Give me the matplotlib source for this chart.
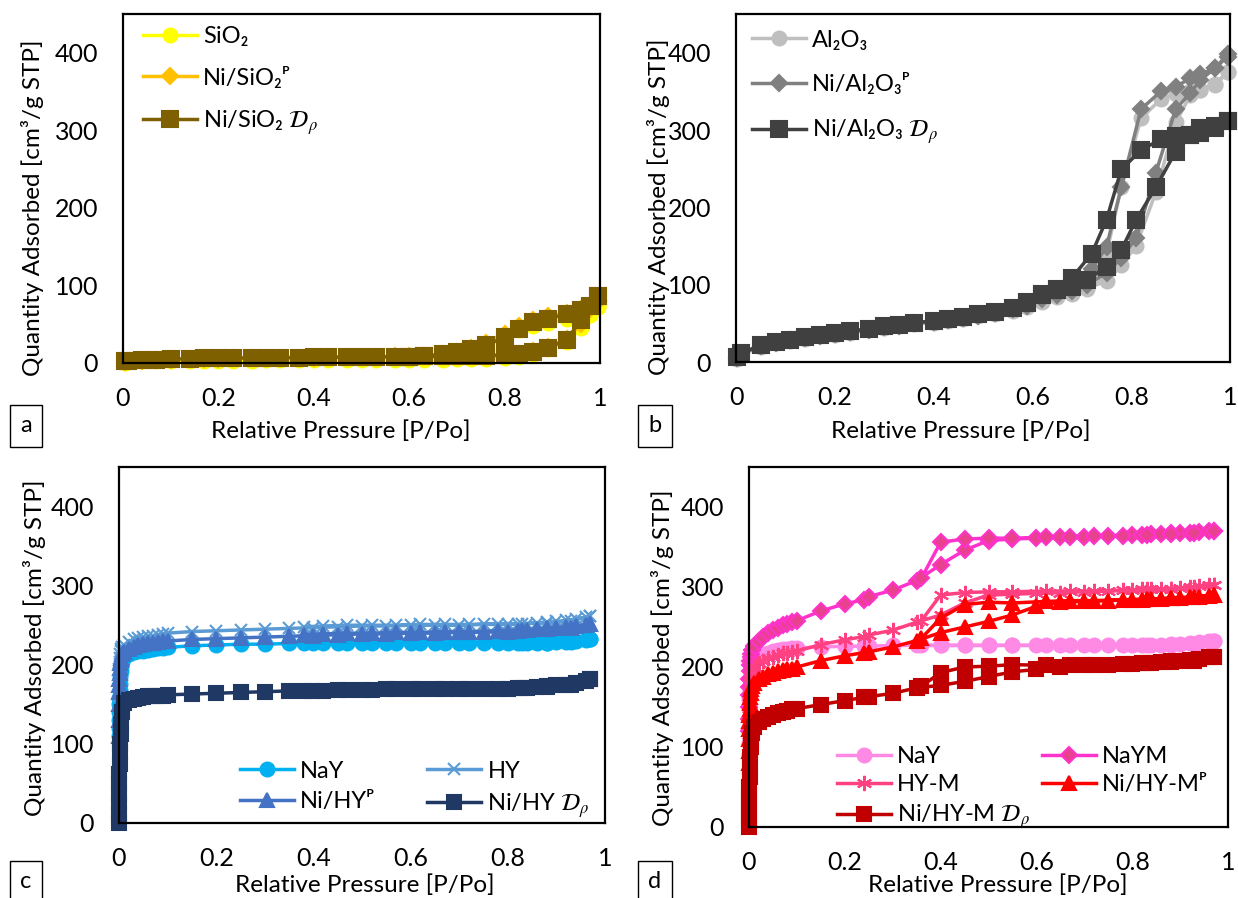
import matplotlib
matplotlib.use("Agg")
import matplotlib.pyplot as plt

plt.rcParams['font.family'] = ['Lato', 'DejaVu Sans']
plt.rcParams['font.size'] = 17

W, H = 1238, 898

# ---- panel a : silica ----
a_x_ads = [0.005, 0.01, 0.04, 0.07, 0.10, 0.14, 0.17, 0.20, 0.23, 0.27, 0.30, 0.33, 0.37, 0.40, 0.43, 0.47,
           0.50, 0.53, 0.57, 0.60, 0.63, 0.67, 0.70, 0.73, 0.76, 0.80, 0.83, 0.86, 0.89, 0.93, 0.96, 0.98, 0.995]
a_x_des = [0.995, 0.96, 0.93, 0.89, 0.86, 0.83, 0.80, 0.76, 0.73, 0.70, 0.67, 0.63, 0.60]
sio2_ads = [0, 1, 2, 2.5, 2.5, 3, 3, 3, 3, 3, 3.5, 3.5, 3.5, 3.5, 3.5, 4, 4, 4, 4, 4, 4.5, 4.5, 5, 5, 5.5,
            6, 8, 12, 18, 27, 45, 62, 72]
sio2_des = [72, 60, 57, 52, 48, 42, 35, 20, 14, 10, 8, 6, 5]
nisio2_p_ads = [1, 2, 3, 4, 4.5, 5, 5.5, 5.5, 6, 6, 6.5, 6.5, 7, 7, 7.5, 7.5, 8, 8, 8.5, 8.5, 9, 9, 9.5, 10, 10,
                10.5, 12, 15, 21, 31, 50, 70, 80]
nisio2_p_des = [80, 70, 65, 60, 55, 48, 38, 26, 19, 14, 11, 9, 8]
nisio2_d_ads = [2, 3, 4, 4.5, 5, 5.5, 6, 6, 6.5, 6.5, 7, 7, 7, 7.5, 7.5, 7.5, 8, 8, 8, 8, 8.5, 8.5, 9, 9, 9.5,
                10, 11, 14, 19, 30, 55, 74, 87]
nisio2_d_des = [87, 68, 63, 57, 53, 44, 33, 23, 18, 14, 11, 9, 8]

# ---- panel b : alumina ----
b_x_ads = [0.002, 0.01, 0.05, 0.08, 0.11, 0.14, 0.17, 0.20, 0.23, 0.27, 0.30, 0.33, 0.36, 0.40, 0.43, 0.46,
           0.49, 0.525, 0.56, 0.59, 0.62, 0.65, 0.68, 0.71, 0.75, 0.78, 0.81, 0.85, 0.89, 0.92, 0.94, 0.97, 0.995]
b_x_des = [0.995, 0.97, 0.94, 0.92, 0.89, 0.86, 0.82, 0.78, 0.75, 0.72, 0.68, 0.65, 0.62, 0.59]
al2o3_ads = [4, 9, 20, 24, 27, 30, 33, 35, 38, 41, 44, 46, 49, 51, 53, 56, 59, 62, 66, 71, 78, 84, 88, 95,
             105, 125, 150, 220, 310, 345, 352, 360, 375]
al2o3_des = [375, 358, 352, 350, 347, 340, 315, 226, 140, 110, 95, 88, 82, 75]
nial2o3_p_ads = [5, 10, 21, 25, 28, 31, 34, 36, 39, 42, 45, 47, 50, 52, 54, 57, 60, 63, 68, 73, 81, 87, 92,
                 100, 115, 135, 160, 245, 327, 348, 365, 380, 395]
nial2o3_p_des = [398, 380, 372, 367, 356, 350, 327, 226, 149, 120, 100, 90, 84, 76]
nial2o3_d_ads = [6, 11, 22, 26, 29, 32, 35, 37, 40, 43, 46, 48, 51, 53, 55, 58, 62, 65, 70, 76, 87, 93, 97,
                 106, 123, 145, 184, 226, 272, 294, 296, 303, 311]
nial2o3_d_des = [311, 305, 303, 294, 292, 288, 274, 249, 184, 140, 109, 95, 88, 78]

# ---- panel c : Y zeolites ----
c_x_ads = [0.0, 0.0002, 0.0004, 0.0006, 0.0008, 0.001, 0.0015, 0.002, 0.003, 0.004, 0.005, 0.007, 0.01,
           0.02, 0.03, 0.04, 0.05, 0.06, 0.07, 0.08, 0.09, 0.10, 0.15, 0.20, 0.25, 0.30, 0.35, 0.40, 0.45,
           0.50, 0.55, 0.60, 0.65, 0.70, 0.75, 0.80, 0.82, 0.84, 0.86, 0.88, 0.90, 0.92, 0.94, 0.96, 0.97]
c_x_des = [0.97, 0.93, 0.88, 0.83, 0.78, 0.72, 0.67, 0.62, 0.57, 0.52, 0.47, 0.42, 0.38]
nay_ads = [110, 120, 130, 140, 150, 158, 168, 176, 185, 192, 198, 204, 210,
           214, 216, 217, 218, 219, 220, 221, 221, 222, 224, 225, 226, 226, 227, 227, 227,
           227, 227, 227, 227, 227, 227, 227, 227, 228, 228, 228, 229, 229, 230, 231, 232]
nay_des = [232, 229, 228, 228, 228, 228, 228, 228, 228, 228, 228, 228, 228]
hy_ads = [120, 140, 160, 175, 188, 195, 203, 208, 213, 217, 220, 223, 225,
          229, 232, 234, 235, 236, 237, 238, 239, 240, 242, 243, 244, 245, 246, 247, 248,
          249, 249, 250, 250, 250, 251, 251, 252, 252, 253, 254, 255, 256, 258, 260, 262]
hy_des = [262, 255, 253, 252, 252, 251, 251, 251, 250, 250, 250, 249, 248]
nihy_p_ads = [110, 130, 150, 165, 175, 182, 190, 196, 202, 206, 209, 213, 216,
              220, 223, 225, 226, 227, 228, 229, 230, 230, 232, 233, 234, 235, 236, 237, 238,
              239, 239, 240, 240, 241, 241, 242, 243, 244, 245, 246, 247, 248, 249, 250, 252]
nihy_p_des = [252, 247, 245, 244, 243, 242, 242, 241, 241, 240, 240, 239, 238]
nihy_d_ads = [0, 12, 25, 38, 50, 62, 75, 88, 100, 112, 125, 140, 152,
              155, 157, 158, 159, 160, 160, 161, 161, 162, 163, 164, 165, 166, 167, 167, 168,
              168, 169, 169, 169, 170, 170, 170, 171, 171, 172, 173, 174, 175, 177, 179, 182]
nihy_d_des = [182, 175, 172, 171, 170, 170, 169, 169, 169, 168, 168, 167, 167]

# ---- panel d : modified Y zeolites ----
d_x_ads = [0.0, 0.0002, 0.0004, 0.0006, 0.0008, 0.001, 0.0015, 0.002, 0.003, 0.004, 0.005, 0.007, 0.01,
           0.02, 0.03, 0.04, 0.05, 0.06, 0.07, 0.08, 0.09, 0.10, 0.15, 0.20, 0.24, 0.25, 0.30, 0.35, 0.40,
           0.45, 0.50, 0.55, 0.60, 0.65, 0.70, 0.75, 0.80, 0.82, 0.84, 0.86, 0.88, 0.90, 0.92, 0.94, 0.96, 0.97]
d_x_des = [0.97, 0.93, 0.88, 0.83, 0.78, 0.72, 0.67, 0.62, 0.55, 0.50, 0.45, 0.40, 0.36]
nay2_ads = [90, 105, 120, 135, 150, 160, 170, 178, 185, 192, 197, 203, 208,
            213, 216, 218, 220, 221, 222, 223, 224, 224, 225, 226, 226, 226, 227, 227, 227,
            227, 227, 227, 227, 227, 227, 227, 228, 228, 228, 228, 229, 229, 230, 231, 232, 233]
nay2_des = [233, 229, 228, 228, 228, 228, 227, 227, 227, 227, 227, 227, 227]
naym_ads = [120, 135, 150, 165, 175, 185, 195, 202, 208, 212, 216, 221, 226,
            233, 238, 242, 246, 249, 252, 254, 256, 258, 270, 279, 284, 288, 296, 308, 328,
            346, 358, 360, 361, 362, 363, 364, 365, 365, 366, 366, 367, 367, 368, 369, 370, 370]
naym_des = [370, 368, 366, 365, 364, 364, 363, 362, 361, 361, 360, 356, 311]
hym_ads = [100, 115, 128, 140, 150, 158, 166, 172, 180, 186, 190, 195, 200,
           205, 208, 211, 213, 215, 217, 218, 219, 220, 228, 234, 238, 240, 246, 256, 265,
           280, 290, 291, 292, 293, 294, 295, 296, 297, 297, 298, 298, 299, 300, 301, 302, 303]
hym_des = [303, 300, 298, 297, 296, 295, 295, 295, 294, 294, 293, 290, 258]
nihym_p_ads = [80, 95, 110, 122, 132, 140, 148, 155, 162, 168, 172, 176, 180,
               185, 188, 191, 193, 195, 196, 197, 198, 200, 208, 214, 218, 219, 225, 233, 243,
               250, 257, 265, 276, 281, 282, 283, 284, 284, 285, 285, 286, 286, 287, 288, 289, 290]
nihym_p_des = [290, 288, 286, 285, 284, 283, 283, 282, 280, 281, 278, 261, 236]
nihym_d_ads = [0, 10, 20, 30, 40, 50, 62, 75, 88, 100, 110, 118, 125,
               131, 135, 138, 140, 142, 144, 145, 147, 148, 153, 158, 162, 163, 167, 174, 177,
               182, 188, 194, 197, 200, 202, 203, 204, 205, 205, 206, 207, 208, 209, 210, 212, 213]
nihym_d_des = [213, 208, 206, 205, 204, 203, 203, 202, 203, 201, 200, 193, 176]

DP = r'$\mathcal{D}_{\rho}$'


def frac(x0, y0, x1, y1):
    # pixel box (left, top, right, bottom) -> figure rect
    return [x0 / W, 1 - y1 / H, (x1 - x0) / W, (y1 - y0) / H]


def fpos(x, y):
    return x / W, 1 - y / H


def iso(ax, xa, xd, ya, yd, label, color, marker, ms, mfc=None):
    ax.plot(xa + xd, ya + yd, color=color, lw=2.5, marker=marker, ms=ms,
            mfc=mfc or color, mec=color, mew=1.5, label=label, clip_on=False)


def style(ax):
    ax.set_xlim(0, 1)
    ax.set_ylim(0, 450)
    ax.set_xticks([0, 0.2, 0.4, 0.6, 0.8, 1.0])
    ax.set_xticklabels(['0', '0.2', '0.4', '0.6', '0.8', '1'])
    ax.set_yticks([0, 100, 200, 300, 400])
    ax.tick_params(length=0, labelsize=18)
    ax.tick_params(axis='x', pad=17)
    ax.tick_params(axis='y', pad=18)
    for s in ax.spines.values():
        s.set_linewidth(1.6)
        s.set_color('black')


def fix_math(leg):
    for t in leg.get_texts():
        t.set_math_fontfamily('stix')


fig = plt.figure(figsize=(W / 100, H / 100), dpi=100)

ax_a = fig.add_axes(frac(123, 14, 600, 363))
ax_b = fig.add_axes(frac(736, 14, 1230, 362))
ax_c = fig.add_axes(frac(119, 467, 605, 823))
ax_d = fig.add_axes(frac(749, 467, 1228, 827))

# a
iso(ax_a, a_x_ads, a_x_des, sio2_ads, sio2_des, 'SiO₂', '#FFFF00', 'o', 10)
iso(ax_a, a_x_ads, a_x_des, nisio2_p_ads, nisio2_p_des, 'Ni/SiO₂ᴾ', '#FFC000', 'D', 8)
iso(ax_a, a_x_ads, a_x_des, nisio2_d_ads, nisio2_d_des, 'Ni/SiO₂ ' + DP, '#7F6000', 's', 11)

# b
iso(ax_b, b_x_ads, b_x_des, al2o3_ads, al2o3_des, 'Al₂O₃', '#BFBFBF', 'o', 10)
iso(ax_b, b_x_ads, b_x_des, nial2o3_p_ads, nial2o3_p_des, 'Ni/Al₂O₃ᴾ', '#808080', 'D', 8)
iso(ax_b, b_x_ads, b_x_des, nial2o3_d_ads, nial2o3_d_des, 'Ni/Al₂O₃ ' + DP, '#404040', 's', 11)

# c
iso(ax_c, c_x_ads, c_x_des, nay_ads, nay_des, 'NaY', '#00B0F0', 'o', 10)
iso(ax_c, c_x_ads, c_x_des, hy_ads, hy_des, 'HY', '#5B9BD5', 'x', 9)
iso(ax_c, c_x_ads, c_x_des, nihy_p_ads, nihy_p_des, 'Ni/HYᴾ', '#4472C4', '^', 10)
iso(ax_c, c_x_ads, c_x_des, nihy_d_ads, nihy_d_des, 'Ni/HY ' + DP, '#203864', 's', 10)

# d
iso(ax_d, d_x_ads, d_x_des, nay2_ads, nay2_des, 'NaY', '#FF8AE6', 'o', 10)
iso(ax_d, d_x_ads, d_x_des, naym_ads, naym_des, 'NaYM', '#FF33CC', 'D', 8, mfc='#E8418E')
iso(ax_d, d_x_ads, d_x_des, hym_ads, hym_des, 'HY-M', '#FF4081', (6, 2, 0), 11)
iso(ax_d, d_x_ads, d_x_des, nihym_p_ads, nihym_p_des, 'Ni/HY-Mᴾ', '#FF0000', '^', 10)
iso(ax_d, d_x_ads, d_x_des, nihym_d_ads, nihym_d_des, 'Ni/HY-M ' + DP, '#C00000', 's', 10)

for ax in (ax_a, ax_b, ax_c, ax_d):
    style(ax)

leg_kw = dict(frameon=False, borderpad=0, borderaxespad=0, handlelength=2.3,
              handletextpad=0.25, fontsize=17, loc='upper left')
fix_math(ax_a.legend(bbox_to_anchor=(0.042, 0.965), labelspacing=0.82, **leg_kw))
fix_math(ax_b.legend(bbox_to_anchor=(0.032, 0.955), labelspacing=0.95, **leg_kw))

h, l = ax_c.get_legend_handles_labels()
order = [0, 2, 1, 3]
fix_math(ax_c.legend([h[i] for i in order], [l[i] for i in order], ncol=2,
                     bbox_to_anchor=(0.249, 0.175), labelspacing=0.4, columnspacing=2.2, **leg_kw))
h, l = ax_d.get_legend_handles_labels()
order = [0, 2, 4, 1, 3]
fix_math(ax_d.legend([h[i] for i in order], [l[i] for i in order], ncol=2,
                     bbox_to_anchor=(0.183, 0.224), labelspacing=0.3, columnspacing=0.5, **leg_kw))

# axis titles and panel letters
ylab = 'Quantity Adsorbed [cm³/g STP]'
xlab = 'Relative Pressure [P/Po]'
for (yx, yy), (xx, xy) in [((33, 208), (341, 431)), ((658, 207), (961, 431)),
                           ((35, 648), (365, 885)), ((662, 658), (998, 885))]:
    fig.text(*fpos(yx, yy), ylab, rotation=90, ha='center', va='center', fontsize=17.5)
    fig.text(*fpos(xx, xy), xlab, ha='center', va='center', fontsize=17.5)

for letter, (lx, ly) in zip('abcd', [(26, 426), (655, 426), (26, 882), (655, 882)]):
    fig.text(*fpos(lx, ly), letter, ha='center', va='center', fontsize=17,
             bbox=dict(boxstyle='square,pad=0.45', fc='white', ec='black', lw=1))

fig.savefig('out.png', dpi=100)
